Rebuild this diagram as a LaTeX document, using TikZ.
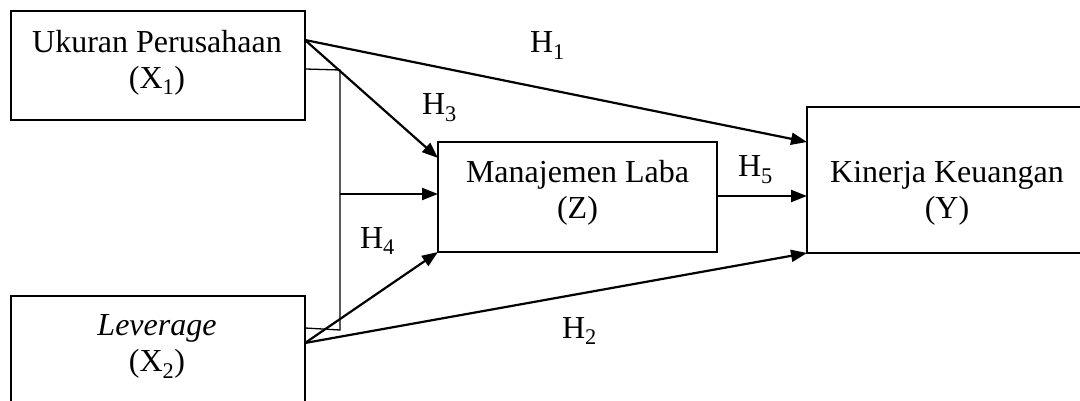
\documentclass[tikz,border=0pt]{standalone}
\usepackage{fontspec}
\setmainfont{Liberation Serif}
\usetikzlibrary{arrows.meta}

\tikzset{
  box/.style={draw, line width=1.5pt, rectangle, inner sep=0pt, outer sep=0pt, anchor=north west},
  txt/.style={inner sep=0pt, outer sep=0pt, align=center, anchor=north,
              font=\fontsize{32}{36}\selectfont},
  hyp/.style={inner sep=0pt, outer sep=0pt, anchor=base west,
              font=\fontsize{32}{36}\selectfont},
  arr/.style={line width=2.2pt, -{Triangle[length=16pt,width=12pt]}},
  link/.style={line width=1.3pt},
}

\begin{document}
\begin{tikzpicture}[x=1pt, y=-1pt]
  \clip (0,0) rectangle (1080,401);
  \fill[white] (0,0) rectangle (1080,401);

  % variable boxes
  \node[box, minimum width=294pt, minimum height=109pt] (X1) at (11,11) {};
  \node[box, minimum width=294pt, minimum height=115pt] (X2) at (11,296) {};
  \node[box, minimum width=279pt, minimum height=110pt] (Z) at (438,142) {};
  \node[box, minimum width=280pt, minimum height=146pt] (Y) at (807,107) {};

  % box captions
  \node[txt] (X1t) at (157,30) {Ukuran Perusahaan\\(X\textsubscript{1})};
  \node[txt] (X2t) at (157,315) {\textit{Leverage}\\(X\textsubscript{2})};
  \node[txt] (Zt) at (577.5,160) {Manajemen Laba\\(Z)};
  \node[txt] (Yt) at (947,161) {Kinerja Keuangan\\(Y)};

  % connection points on the box edges
  \coordinate (s1)  at ([yshift=-29pt]X1.north east);
  \coordinate (s1b) at ([yshift=-58pt]X1.north east);
  \coordinate (s2)  at ([yshift=-47pt]X2.north east);
  \coordinate (s2b) at ([yshift=-32pt]X2.north east);
  \coordinate (zt)  at ([yshift=-16pt]Z.north west);
  \coordinate (zm)  at ([yshift=-52pt]Z.north west);
  \coordinate (zo)  at ([yshift=-54pt]Z.north east);
  \coordinate (yt)  at ([yshift=-35pt]Y.north west);
  \coordinate (ym)  at ([yshift=-89pt]Y.north west);

  % moderation bracket
  \coordinate (jt) at (340,70);
  \coordinate (jm) at (340,194);
  \coordinate (jb) at (340,330);
  \draw[link] (s1b) -- (jt) -- (jb) -- (s2b);

  % hypothesis paths
  \draw[arr] (s1) -- (yt);
  \draw[arr] (s1) -- (zt);
  \draw[arr] (jm) -- (zm);
  \draw[arr] (s2) -- (Z.south west);
  \draw[arr] (s2) -- (Y.south west);
  \draw[arr] (zo) -- (ym);

  % hypothesis labels
  \node[hyp] (H1) at (530,53) {H\textsubscript{1}};
  \node[hyp] (H2) at (562,338) {H\textsubscript{2}};
  \node[hyp] (H3) at (422,115) {H\textsubscript{3}};
  \node[hyp] (H4) at (360,248) {H\textsubscript{4}};
  \node[hyp] (H5) at (738,177) {H\textsubscript{5}};
\end{tikzpicture}
\end{document}
